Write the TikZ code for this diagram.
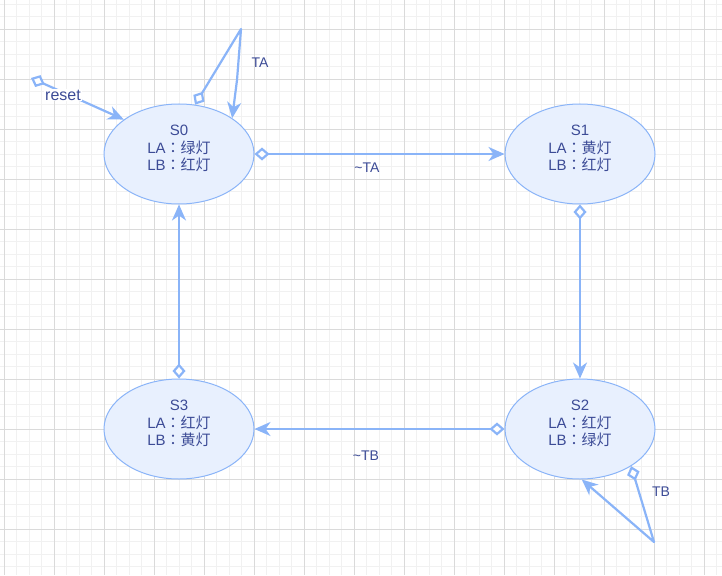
\documentclass[tikz,border=0pt]{standalone}
\usepackage{fontspec}
\setmainfont{Liberation Sans}
\newfontfamily\cjk{Noto Sans CJK SC}
\newfontfamily\cjkp{Noto Sans CJK TC}
\usetikzlibrary{shapes.geometric,arrows.meta}
\definecolor{gridminor}{RGB}{241,241,241}
\definecolor{gridmajor}{RGB}{218,218,218}
\definecolor{edgeblue}{RGB}{138,180,248}
\definecolor{fillblue}{RGB}{232,240,254}
\definecolor{txt}{RGB}{60,75,150}
\newcommand{\fcolon}{{\cjkp ：}}
\tikzset{
  minorline/.style={draw=gridminor, line width=0.8pt},
  majorline/.style={draw=gridmajor, line width=0.8pt},
  state/.style={ellipse, draw=edgeblue, fill=fillblue, line width=1pt,
    minimum width=150pt, minimum height=100pt, inner sep=0pt},
  stxt/.style={align=center, text=txt, inner sep=0pt,
    font=\fontsize{15}{17.5}\selectfont},
  conn/.style={draw=edgeblue, line width=2.2pt, line join=round,
    {Diamond[length=15pt,width=13pt,fill=white]}-{Stealth[length=16pt,width=14pt,inset=5pt]}},
  lbl/.style={text=txt, inner sep=1pt, font=\fontsize{14}{16}\selectfont},
  rlbl/.style={text=txt, fill=white, inner sep=1pt, font=\fontsize{16}{18}\selectfont}
}
\begin{document}
\begin{tikzpicture}[x=1pt,y=-1pt]
\useasboundingbox (0,0) rectangle (722,575);
\fill[white] (0,0) rectangle (722,575);
% grid
\foreach \i in {0,...,57} { \draw[minorline] ({4+12.5*\i},0) -- ({4+12.5*\i},575); }
\foreach \i in {0,...,45} { \draw[minorline] (0,{4+12.5*\i}) -- (722,{4+12.5*\i}); }
\foreach \i in {0,...,14} { \draw[majorline] ({4+50*\i},0) -- ({4+50*\i},575); }
\foreach \i in {0,...,10} { \draw[majorline] (0,{29+50*\i}) -- (722,{29+50*\i}); }

% states
\node[state] (S0) at (179,154) {};
\node[state] (S1) at (580,154) {};
\node[state] (S2) at (580,429) {};
\node[state] (S3) at (179,429) {};
\node[stxt] (S0t) at (179,148.5) {S0\\LA\fcolon{\cjk 绿灯}\\LB\fcolon{\cjk 红灯}};
\node[stxt] (S1t) at (580,148.5) {S1\\LA\fcolon{\cjk 黄灯}\\LB\fcolon{\cjk 红灯}};
\node[stxt] (S2t) at (580,423.5) {S2\\LA\fcolon{\cjk 红灯}\\LB\fcolon{\cjk 绿灯}};
\node[stxt] (S3t) at (179,423.5) {S3\\LA\fcolon{\cjk 红灯}\\LB\fcolon{\cjk 黄灯}};

% transitions
\draw[conn] (S0.east) -- (S1.west);
\draw[conn] (S1.south) -- (S2.north);
\draw[conn] (S2.west) -- (S3.east);
\draw[conn] (S3.north) -- (S0.south);

% self loops
\coordinate (l0a) at (241,29);
\coordinate (l0b) at (237,80);
\draw[conn] (S0.72) -- (l0a) -- (l0b) -- (S0.34);
\coordinate (l2a) at (654,542);
\draw[conn] (S2.-36) -- (l2a) -- (S2.-88);

% reset
\coordinate (rs) at (31,78);
\draw[conn] (rs) -- (S0.148);
\node[rlbl] (rlab) at (63,95) {reset};

% labels
\node[lbl] (lTA) at (260,63) {TA};
\node[lbl] (lnTA) at (367,168) {\textasciitilde TA};
\node[lbl] (lnTB) at (366,456) {\textasciitilde TB};
\node[lbl] (lTB) at (661,492) {TB};
\end{tikzpicture}
\end{document}
